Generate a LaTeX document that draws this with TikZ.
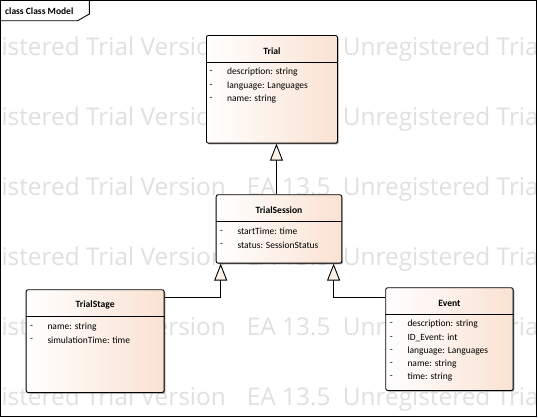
\documentclass[tikz,border=0pt]{standalone}
\usepackage{fontspec}
\setmainfont{Carlito}
\newfontfamily\wmfont{Open Sans}
\usetikzlibrary{arrows.meta,shadows,calc}
\definecolor{peach}{RGB}{250,226,210}
\definecolor{tipfill}{RGB}{253,242,232}
\definecolor{wmgray}{RGB}{224,224,224}
\begin{document}
\begin{tikzpicture}[x=1pt,y=-1pt,
  umlbox/.style={draw, line width=0.9pt, rounded corners=2pt, left color=white, right color=peach,
    anchor=north west, inner sep=0pt,
    drop shadow={shadow xshift=1.2pt, shadow yshift=-1.2pt, fill=black, opacity=0.4}},
  sep/.style={line width=0.9pt},
  ctitle/.style={font=\bfseries\fontsize{9.6}{11}\selectfont, inner sep=0pt},
  dashmark/.style={font=\fontsize{9.5}{11}\selectfont, inner sep=0pt},
  attr/.style={font=\fontsize{9.5}{11}\selectfont, inner sep=0pt, anchor=west},
  gen/.style={line width=0.9pt, -{Triangle[length=17pt, width=13pt, fill=tipfill]}},
  wm/.style={font=\wmfont\fontsize{24.4}{27}\selectfont, text=wmgray, inner sep=0pt}]
\useasboundingbox (0,0) rectangle (538,418);
% watermark
\begin{scope}
\clip (1,1) rectangle (536.5,416.5);
\foreach \i in {0,...,5}{
  \node[wm, anchor=base east] (wa\i) at (226,55+70*\i) {Unregistered Trial Version};
  \node[wm, anchor=base west] (wb\i) at (246.7,55+70*\i) {EA 13.5};
  \node[wm, anchor=base west] (wc\i) at (342.7,55+70*\i) {Unregistered Trial Version};
}
\end{scope}
% frame
\draw[line width=1pt] (0.8,0.8) rectangle (536.5,416.5);
\draw[line width=0.9pt] (0.8,20.7) -- (77.7,20.7) -- (89.3,14) -- (89.3,0.8);
\node[anchor=west, font=\bfseries\fontsize{9.5}{11}\selectfont, inner sep=0pt] (tab) at (5,11.2) {class Class Model};
% Trial
\node[umlbox, minimum width=131pt, minimum height=107.7pt] (trial) at (206,35) {};
\draw[sep] ([yshift=-27.3pt]trial.north west) -- ([yshift=-27.3pt]trial.north east);
\node[ctitle] (trialt) at ([yshift=-16pt]trial.north) {Trial};
\node[dashmark] (trd1) at (211,72.3) {-};
\node[dashmark] (trd2) at (211,85.7) {-};
\node[dashmark] (trd3) at (211,99) {-};
\node[attr] (tra1) at (227,72.3) {description: string};
\node[attr] (tra2) at (227,85.7) {language: Languages};
\node[attr] (tra3) at (227,99) {name: string};
% TrialSession
\node[umlbox, minimum width=125.6pt, minimum height=68.4pt] (ts) at (215.7,194.3) {};
\draw[sep] ([yshift=-26.7pt]ts.north west) -- ([yshift=-26.7pt]ts.north east);
\node[ctitle] (tst) at ([yshift=-15.7pt]ts.north) {TrialSession};
\node[dashmark] (tsd1) at (221.7,231.7) {-};
\node[dashmark] (tsd2) at (221.7,245) {-};
\node[attr] (tsa1) at (237.3,231.7) {startTime: time};
\node[attr] (tsa2) at (237.3,245) {status: SessionStatus};
% TrialStage
\node[umlbox, minimum width=138pt, minimum height=102.7pt] (stage) at (25.7,289.3) {};
\draw[sep] ([yshift=-26.7pt]stage.north west) -- ([yshift=-26.7pt]stage.north east);
\node[ctitle] (stt) at ([yshift=-15.7pt]stage.north) {TrialStage};
\node[dashmark] (std1) at (31.7,327.3) {-};
\node[dashmark] (std2) at (31.7,340.3) {-};
\node[attr] (sta1) at (47.3,327.3) {name: string};
\node[attr] (sta2) at (47.3,340.3) {simulationTime: time};
% Event
\node[umlbox, minimum width=127.4pt, minimum height=102.7pt] (event) at (385.3,287.3) {};
\draw[sep] ([yshift=-26.7pt]event.north west) -- ([yshift=-26.7pt]event.north east);
\node[ctitle] (evt) at ([yshift=-16pt]event.north) {Event};
\node[dashmark] (evd1) at (391.3,324.3) {-};
\node[dashmark] (evd2) at (391.3,337.7) {-};
\node[dashmark] (evd3) at (391.3,351) {-};
\node[dashmark] (evd4) at (391.3,364) {-};
\node[dashmark] (evd5) at (391.3,377.3) {-};
\node[attr] (eva1) at (407.3,324.3) {description: string};
\node[attr] (eva2) at (407.3,337.7) {ID\_Event: int};
\node[attr] (eva3) at (407.3,351) {language: Languages};
\node[attr] (eva4) at (407.3,364) {name: string};
\node[attr] (eva5) at (407.3,377.3) {time: string};
% generalizations
\draw[gen] ([xshift=-2.5pt]ts.north) -- ([xshift=-2.5pt]ts.north |- trial.south);
\draw[gen] ([yshift=-8.2pt]stage.north east) -| ([xshift=5pt]ts.south west);
\draw[gen] ([yshift=-9.7pt]event.north west) -| ([xshift=-8.6pt]ts.south east);
\end{tikzpicture}
\end{document}
